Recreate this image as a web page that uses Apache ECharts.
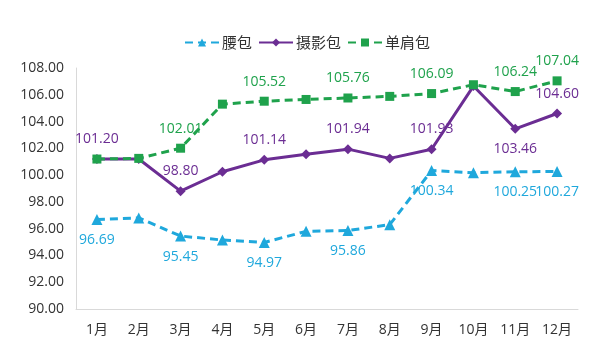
<!DOCTYPE html>
<html><head><meta charset="utf-8">
<script src="https://cdn.jsdelivr.net/npm/echarts@6/dist/echarts.min.js"></script>
<style>html,body{margin:0;padding:0;background:#fff}#c{width:614px;height:363px}</style>
</head><body><div id="c"></div>
<script>
const categories = ['1月','2月','3月','4月','5月','6月','7月','8月','9月','10月','11月','12月'];
const yaoBao = [96.69, 96.80, 95.45, 95.15, 94.97, 95.80, 95.86, 96.30, 100.34, 100.18, 100.25, 100.27];
const sheYingBao = [101.20, 101.20, 98.80, 100.25, 101.14, 101.55, 101.94, 101.25, 101.93, 106.65, 103.46, 104.60];
const danJianBao = [101.20, 101.25, 102.01, 105.30, 105.52, 105.65, 105.76, 105.88, 106.09, 106.75, 106.24, 107.04];
const yTicks = {min: 90, max: 108, interval: 2};

const labeled = [0, 2, 4, 6, 8, 10, 11];
const font = '"Open Sans", "Noto Sans CJK SC", sans-serif';
function build(values, color, posFn, skip) {
  return values.map((v, i) => ({
    value: v,
    label: {
      show: labeled.includes(i) && !(skip || []).includes(i),
      position: posFn(i),
      distance: 8,
      color: color,
      fontSize: 14,
      fontFamily: font,
      formatter: p => p.value.toFixed(2)
    }
  }));
}
const cBlue = '#1fa8dc', cPurple = '#6b2d93', cGreen = '#1fa24c';
const chart = echarts.init(document.getElementById('c'));
chart.setOption({
  animation: false,
  legend: {
    top: 30, left: 'center', itemWidth: 34, itemHeight: 10, itemGap: 6,
    textStyle: {fontSize: 15, color: '#333', fontFamily: '"Noto Sans CJK SC", sans-serif', padding: [0, 0, 0, -2]},
    data: ['腰包', '摄影包', '单肩包']
  },
  grid: {left: 76, right: 36, top: 68, bottom: 54},
  xAxis: {
    type: 'category', data: categories, boundaryGap: true,
    axisLine: {lineStyle: {color: '#d9d9d9'}},
    axisTick: {show: false},
    axisLabel: {color: '#333', fontSize: 14, fontFamily: font, margin: 14}
  },
  yAxis: {
    type: 'value', min: yTicks.min, max: yTicks.max, interval: yTicks.interval,
    axisLine: {show: true, lineStyle: {color: '#d9d9d9'}},
    axisTick: {show: false},
    splitLine: {show: false},
    axisLabel: {color: '#333', fontSize: 14, fontFamily: font, margin: 12, formatter: v => v.toFixed(2)}
  },
  series: [
    {
      name: '腰包', type: 'line', symbol: 'triangle', symbolSize: 11,
      lineStyle: {color: cBlue, width: 3, type: [8, 5]},
      itemStyle: {color: cBlue},
      data: build(yaoBao, cBlue, () => 'bottom')
    },
    {
      name: '摄影包', type: 'line', symbol: 'diamond', symbolSize: 10,
      lineStyle: {color: cPurple, width: 3},
      itemStyle: {color: cPurple},
      data: build(sheYingBao, cPurple, i => i === 10 ? 'bottom' : 'top')
    },
    {
      name: '单肩包', type: 'line', symbol: 'rect', symbolSize: 9,
      lineStyle: {color: cGreen, width: 3, type: [8, 5]},
      itemStyle: {color: cGreen},
      data: build(danJianBao, cGreen, () => 'top', [0])
    }
  ]
});
</script></body></html>
